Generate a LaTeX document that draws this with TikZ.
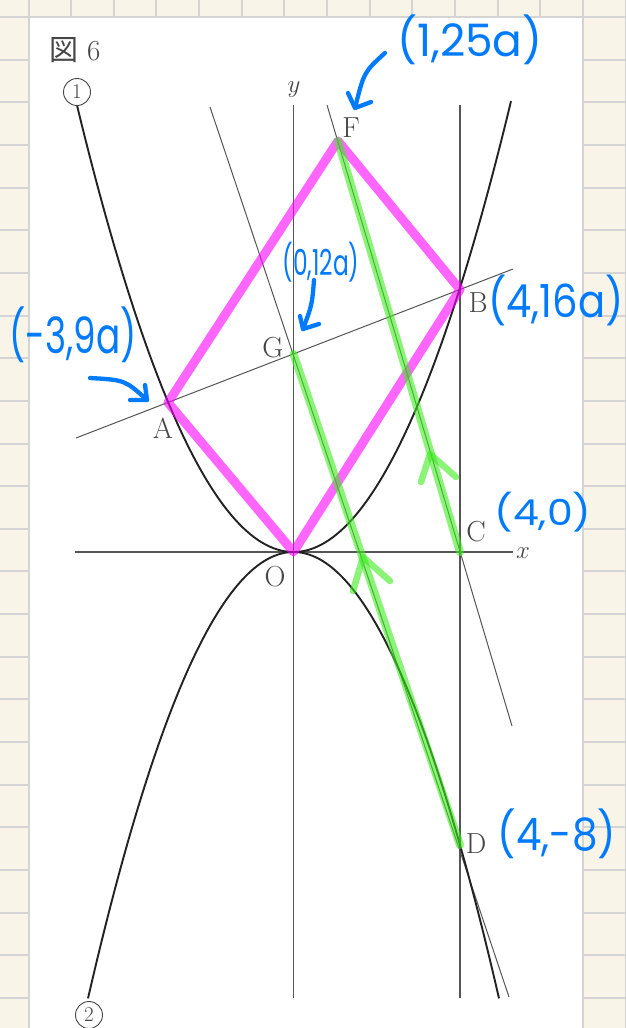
\documentclass[tikz,border=0pt]{standalone}
\usepackage{fontspec}
\usepackage{graphicx}
\newfontfamily\hwfont{Poppins}
\newfontfamily\jpfont{Noto Sans CJK JP}
\usetikzlibrary{calc}
\definecolor{cream}{RGB}{248,245,232}
\definecolor{gridc}{RGB}{212,212,212}
\definecolor{ink}{RGB}{34,34,34}
\definecolor{axisc}{RGB}{85,85,85}
\definecolor{labelc}{RGB}{70,70,70}
\definecolor{penblue}{RGB}{0,122,255}
\definecolor{hlmag}{RGB}{255,0,255}
\definecolor{hlgreen}{RGB}{60,235,30}
\newcommand{\hwtext}[3]{\resizebox*{#1pt}{#2pt}{\hwfont #3}}
\begin{document}
\begin{tikzpicture}[x=1pt,y=-1pt,
  curve/.style={draw=ink,line width=1.9pt},
  axisline/.style={draw=axisc,line width=1.4pt},
  aux/.style={draw=axisc,line width=1pt},
  maghl/.style={draw=hlmag,draw opacity=0.6,line width=9pt,line join=round,line cap=round},
  greenhl/.style={draw=hlgreen,draw opacity=0.6,line width=8pt,line cap=round,line join=round},
  pen/.style={draw=penblue,line width=4.3pt,line cap=round,line join=round},
  ptlabel/.style={font=\fontsize{29}{29}\selectfont,text=labelc,inner sep=0pt},
  note/.style={text=penblue,inner sep=0pt},
  circnum/.style={circle,draw=labelc,line width=0.9pt,minimum size=27pt,inner sep=0pt,text=labelc,font=\fontsize{21}{21}\selectfont}
]
\useasboundingbox (0,0) rectangle (626,1028);
% paper background
\fill[cream] (0,0) rectangle (626,1028);
\foreach \k in {0,...,14} \draw[gridc,line width=2pt] ({28.5+42.65*\k},0) -- ({28.5+42.65*\k},1028);
\foreach \k in {0,...,23} \draw[gridc,line width=2pt] (0,{17+42.65*\k}) -- (626,{17+42.65*\k});
\fill[white] (29.5,18) rectangle (582,1028);

% points
\coordinate (O) at (293.5,552);
\coordinate (A) at (168,402.5);
\coordinate (B) at (460,289.5);
\coordinate (F) at (338,141);
\coordinate (G) at (293.5,354);
\coordinate (C) at (460,552);
\coordinate (D) at (460,845);
\coordinate (ytop) at (293.5,105);
\coordinate (ybot) at (293.5,998);
\coordinate (xl) at (75,552);
\coordinate (xr) at (513,552);
\coordinate (vtop) at (460,105);
\coordinate (vbot) at (460,998);
\coordinate (ABl) at (76,438);
\coordinate (ABr) at (513,269);
\coordinate (GDt) at (210,107);
\coordinate (GDb) at (509,997);
\coordinate (FCt) at (327,105);
\coordinate (FCb) at (512,726);

% auxiliary lines
\draw[aux] (ABl) -- (ABr);
\draw[aux] (GDt) -- (GDb);
\draw[aux] (FCt) -- (FCb);
% axes
\draw[axisline] (xl) -- (xr);
\draw[axisline] (ytop) -- (ybot);
\draw[axisline] (vtop) -- (vbot);
% parabolas
\draw[curve] plot[domain=77:511,samples=120,smooth] (\x,{552-95.3*((\x-293.5)/100)^2});
\draw[curve] plot[domain=88:499,samples=120,smooth] (\x,{552+105.7*((\x-293.5)/100)^2});

% highlights
\draw[maghl] (O) -- (A) -- (F) -- (B) -- cycle;
\draw[greenhl] (G) -- (D);
\draw[greenhl] (F) -- (C);
\draw[greenhl,line width=6.5pt] (421,482) -- (430,454) -- (456,477);
\draw[greenhl,line width=6.5pt] (353,591) -- (363,557) -- (390,581);

% printed labels
\node[ptlabel] (fig) at (75,50) {{\jpfont 図}\hspace{0.3em}6};
\node[circnum] (c1) at (77,92) {1};
\node[circnum] (c2) at (89,1015) {2};
\node[ptlabel] (ly) at (294,90) {$y$};
\node[ptlabel] (lx) at (523,553) {$x$};
\node[ptlabel] (lF) at (351,128) {F};
\node[ptlabel] (lG) at (273,348) {G};
\node[ptlabel] (lA) at (163,428) {A};
\node[ptlabel] (lB) at (478,303) {B};
\node[ptlabel] (lO) at (275,577) {O};
\node[ptlabel] (lC) at (476,532) {C};
\node[ptlabel] (lD) at (476,844) {D};

% handwritten notes
\node[note] (nF) at (470,40) {\hwtext{145}{50}{(1,25a)}};
\node[note] (nB) at (556,300) {\hwtext{135}{51}{(4,16a)}};
\node[note] (nA) at (73,335) {\hwtext{127}{56}{(-3,9a)}};
\node[note] (nC) at (543,512) {\hwtext{97}{40}{(4,0)}};
\node[note] (nD) at (557,834) {\hwtext{118}{50}{(4,-8)}};
\node[note] (nG) at (321,262) {\hwtext{77}{40}{(0,12a)}};

% handwritten arrows
\coordinate (aFs) at (385,53);
\coordinate (aFt) at (355,108);
\draw[pen] (aFs) .. controls (364,72) .. (aFt);
\draw[pen] (348,93) -- (aFt) -- (371,102);
\coordinate (aGs) at (314,280);
\coordinate (aGt) at (303,329);
\draw[pen] (aGs) .. controls (312,305) .. (aGt);
\draw[pen] (300,316) -- (aGt) -- (319,324);
\coordinate (aAs) at (90,378);
\coordinate (aAt) at (147,400);
\draw[pen] (aAs) .. controls (125,380) .. (aAt);
\draw[pen] (145,385) -- (aAt) -- (130,400);
\end{tikzpicture}
\end{document}
